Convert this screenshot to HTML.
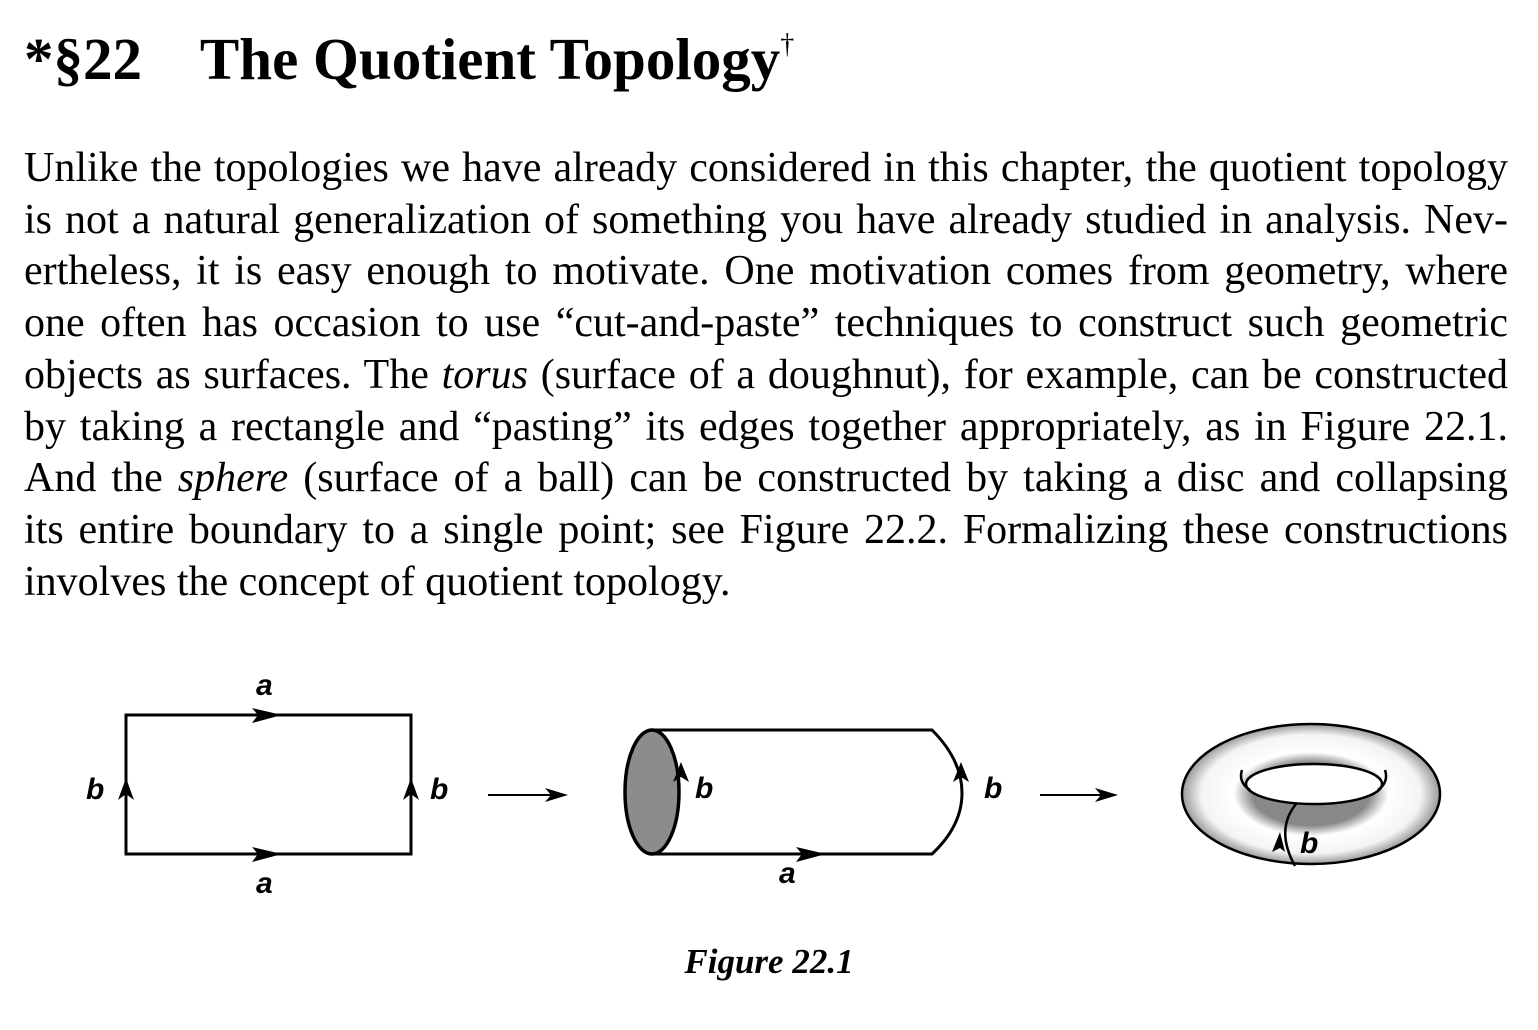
<!DOCTYPE html>
<html><head><style>
body{margin:0;background:#fff;width:1538px;height:1030px;overflow:hidden;position:relative;font-family:"Liberation Serif",serif;color:#000}
h1{position:absolute;left:24px;top:25px;margin:0;font-size:59px;font-weight:bold;white-space:nowrap}
.p{position:absolute;left:24px;top:143px;width:1484px;font-size:42px;line-height:51.7px}
.p div{text-align:justify;text-align-last:justify;white-space:nowrap}
.p div.l{text-align-last:left}
.cap{position:absolute;left:0;width:1538px;top:942px;text-align:center;font-size:35px;font-weight:bold;font-style:italic}
svg{position:absolute;left:0;top:0}
</style></head><body>
<h1>*§22&nbsp;&nbsp;&nbsp; The Quotient Topology<sup style="font-size:28px;font-weight:normal;vertical-align:26px">†</sup></h1>
<div class="p">
<div>Unlike the topologies we have already considered in this chapter, the quotient topology</div>
<div>is not a natural generalization of something you have already studied in analysis. Nev-</div>
<div>ertheless, it is easy enough to motivate. One motivation comes from geometry, where</div>
<div>one often has occasion to use “cut-and-paste” techniques to construct such geometric</div>
<div>objects as surfaces. The <i>torus</i> (surface of a doughnut), for example, can be constructed</div>
<div>by taking a rectangle and “pasting” its edges together appropriately, as in Figure 22.1.</div>
<div>And the <i>sphere</i> (surface of a ball) can be constructed by taking a disc and collapsing</div>
<div>its entire boundary to a single point; see Figure 22.2. Formalizing these constructions</div>
<div class="l">involves the concept of quotient topology.</div>
</div>
<svg width="1538" height="1030">
<defs><radialGradient id="g" cx="50%" cy="50%" r="50%"><stop offset="0.45" stop-color="#888"/><stop offset="0.6" stop-color="#fff"/><stop offset="0.85" stop-color="#f4f4f4"/><stop offset="1" stop-color="#999"/></radialGradient></defs>
<g fill="none" stroke="#000" stroke-width="3">
<rect x="126" y="715" width="285" height="139"/>
<path d="M652 730H932Q962 760 962 793Q962 826 932 854H652"/>
<line x1="488" y1="795" x2="555" y2="795" stroke-width="2"/>
<line x1="1040" y1="795" x2="1105" y2="795" stroke-width="2"/>
</g>
<ellipse cx="652" cy="792" rx="27" ry="62" fill="#8c8c8c" stroke="#000" stroke-width="3.5"/>
<g fill="#000">
<path d="M252 708L282 715L252 723L258 715Z"/><path d="M252 847L282 854L252 862L258 854Z"/>
<path d="M118 800L126 778L134 800L126 794Z"/><path d="M403 800L411 778L419 800L411 794Z"/>
<path d="M796 847L826 854L796 862L802 854Z"/>
<path d="M673 782L681 762L689 782L681 777Z"/><path d="M953 782L961 762L969 782L961 777Z"/>
<path d="M545 788L568 795L545 802L551 795Z"/><path d="M1095 788L1118 795L1095 802L1101 795Z"/>
</g>
<ellipse cx="1311" cy="794" rx="129" ry="70" fill="url(#g)" stroke="#000" stroke-width="2.5"/>
<ellipse cx="1314" cy="784" rx="68" ry="20" fill="#fff" stroke="#000" stroke-width="2.5"/>
<path d="M1242 770Q1238 782 1250 790M1385 770Q1389 782 1378 790" fill="none" stroke="#000" stroke-width="2.5"/>
<path d="M1296 804Q1275 830 1295 866" fill="none" stroke="#000" stroke-width="2.5"/>
<path d="M1272 852L1280 832L1285 852L1280 848Z" fill="#000"/>
<g font-family="Liberation Sans,sans-serif" font-weight="bold" font-style="italic" font-size="30">
<text x="256" y="695">a</text><text x="256" y="893">a</text>
<text x="86" y="799">b</text><text x="430" y="799">b</text>
<text x="695" y="798">b</text><text x="984" y="798">b</text>
<text x="779" y="883">a</text><text x="1300" y="853">b</text>
</g>
</svg>
<div class="cap">Figure 22.1</div>
</body></html>
